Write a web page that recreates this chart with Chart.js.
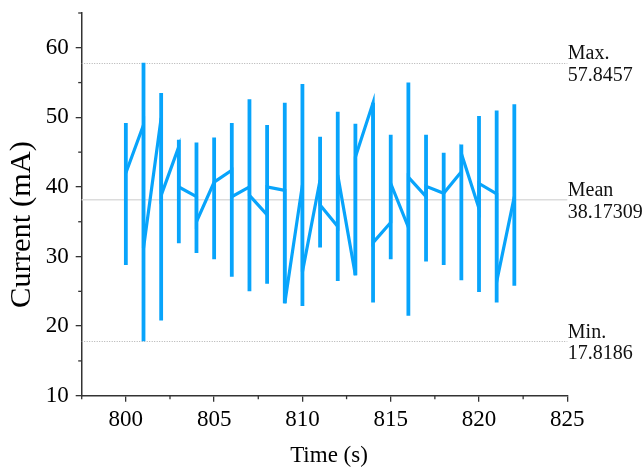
<!DOCTYPE html>
<html>
<head>
<meta charset="utf-8">
<script src="https://cdn.jsdelivr.net/npm/chart.js@4/dist/chart.umd.min.js"></script>
<style>
html,body{margin:0;padding:0;background:#fff;}
canvas{display:block;}
</style>
</head>
<body>
<canvas id="c" width="644" height="467"></canvas>
<script>
// ---- data ----
const times  = [800,801,802,803,804,805,806,807,808,809,810,811,812,813,814,815,816,817,818,819,820,821,822];
const highs  = [49.2,57.8457,53.5,46.8,46.4,47.1,49.2,52.6,48.9,52.1,54.8,47.2,50.8,49.1,52.1,47.5,55.0,47.5,44.9,46.1,50.2,51.0,51.9];
const lows   = [28.8,17.8186,20.8,31.9,30.5,29.6,27.1,25.0,26.1,23.3,22.9,31.3,26.5,27.3,23.4,29.6,21.5,29.3,28.8,26.6,24.9,23.4,25.8];
const opens  = [42.0,48.9,49.9,45.8,38.6,40.7,42.4,40.0,36.0,39.5,40.3,41.0,34.3,27.3,52.1,34.9,34.2,38.6,39.1,42.2,36.9,39.0,38.6];
const closes = [42.0,31.2,38.8,40.0,35.0,40.7,38.6,38.8,40.0,23.3,27.8,37.4,41.7,44.3,32.0,40.5,41.4,40.1,39.1,44.8,40.5,26.4,38.6];
const statMax = 57.8457, statMean = 38.17309, statMin = 17.8186;
const statLabels = [["Max.","57.8457",statMax],["Mean","38.17309",statMean],["Min.","17.8186",statMin]];
const xTicks = [800,805,810,815,820,825];
const yTicks = [10,20,30,40,50,60];
const xMinor = [797.5,802.5,807.5,812.5,817.5,822.5];
const yMinor = [15,25,35,45,55,65];
const xTitle = "Time (s)", yTitle = "Current (mA)";

const BLUE = '#08a4fb';
const SERIF = "'Liberation Serif', serif";
Chart.defaults.font.family = SERIF;

const barPts = [];
times.forEach((t,i)=>{ barPts.push({x:t,y:lows[i]},{x:t,y:highs[i]},{x:t,y:null}); });
const linePts = [];
times.forEach((t,i)=>{ linePts.push({x:t,y:opens[i]},{x:t,y:closes[i]}); });

const deco = {
  id:'deco',
  beforeDatasetsDraw(chart){
    const {ctx, chartArea:a, scales:{y}} = chart;
    ctx.save();
    let py = y.getPixelForValue(statMean);
    ctx.strokeStyle = '#dcdcdc'; ctx.lineWidth = 1.5; ctx.setLineDash([]);
    ctx.beginPath(); ctx.moveTo(a.left, py); ctx.lineTo(a.right, py); ctx.stroke();
    ctx.strokeStyle = '#b0b0b0'; ctx.lineWidth = 1; ctx.setLineDash([1,1.5]);
    [statMax, statMin].forEach(v=>{
      const p = Math.round(y.getPixelForValue(v))+0.5;
      ctx.beginPath(); ctx.moveTo(a.left, p); ctx.lineTo(a.right, p); ctx.stroke();
    });
    ctx.restore();
  },
  afterDraw(chart){
    const {ctx, chartArea:a, scales:{x,y}} = chart;
    ctx.save();
    ctx.strokeStyle = '#333'; ctx.lineWidth = 1.3;
    xMinor.forEach(v=>{ const px = x.getPixelForValue(v); ctx.beginPath(); ctx.moveTo(px,a.bottom); ctx.lineTo(px,a.bottom+3.5); ctx.stroke(); });
    yMinor.forEach(v=>{ const py = y.getPixelForValue(v); ctx.beginPath(); ctx.moveTo(a.left,py); ctx.lineTo(a.left-3.5,py); ctx.stroke(); });
    ctx.fillStyle = '#111'; ctx.font = '20px ' + SERIF; ctx.textAlign = 'left'; ctx.textBaseline = 'alphabetic';
    statLabels.forEach(([name,val,v])=>{
      const py = y.getPixelForValue(v);
      ctx.fillText(name, a.right+0.5, py-3.5);
      ctx.fillText(val, a.right+0.5, py+18);
    });
    ctx.fillStyle = '#000';
    ctx.font = '23px ' + SERIF; ctx.textAlign = 'center';
    ctx.fillText(xTitle, 329, 462);
    ctx.save();
    ctx.translate(30, 224.5); ctx.rotate(-Math.PI/2);
    ctx.font = '30px ' + SERIF;
    const w = ctx.measureText(yTitle).width;
    ctx.scale(167/w, 1);
    ctx.fillText(yTitle, 0, 0);
    ctx.restore();
    ctx.restore();
  }
};

const axisCommon = {
  grid:{display:true, drawOnChartArea:false, drawTicks:true, tickLength:6, color:'#333', lineWidth:1.3},
  border:{display:true, color:'#333', width:1.5},
};

new Chart(document.getElementById('c'), {
  type:'line',
  data:{datasets:[
    {data:barPts, borderColor:BLUE, borderWidth:3.8, pointRadius:0, spanGaps:false, borderCapStyle:'butt', tension:0},
    {data:linePts, borderColor:BLUE, borderWidth:3.2, pointRadius:0, tension:0, borderJoinStyle:'miter'}
  ]},
  options:{
    responsive:false, animation:false, devicePixelRatio:1,
    layout:{padding:{left:0, right:76.7, top:13, bottom:0}},
    plugins:{legend:{display:false}, tooltip:{enabled:false}},
    scales:{
      x:Object.assign({}, axisCommon, {
        type:'linear', min:797.5, max:825,
        afterBuildTicks(s){ s.ticks = xTicks.map(v=>({value:v})); },
        afterFit(s){ s.height = 71.3; s.paddingLeft = 0; s.paddingRight = 0; },
        ticks:{font:{family:SERIF, size:23}, color:'#000', padding:4, maxRotation:0, autoSkip:false}
      }),
      y:Object.assign({}, axisCommon, {
        type:'linear', min:10, max:65,
        afterBuildTicks(s){ s.ticks = yTicks.map(v=>({value:v})); },
        afterFit(s){ s.width = 81.7; s.paddingTop = 0; s.paddingBottom = 0; },
        ticks:{font:{family:SERIF, size:23}, color:'#000', padding:7}
      })
    }
  },
  plugins:[deco]
});
</script>
</body>
</html>
